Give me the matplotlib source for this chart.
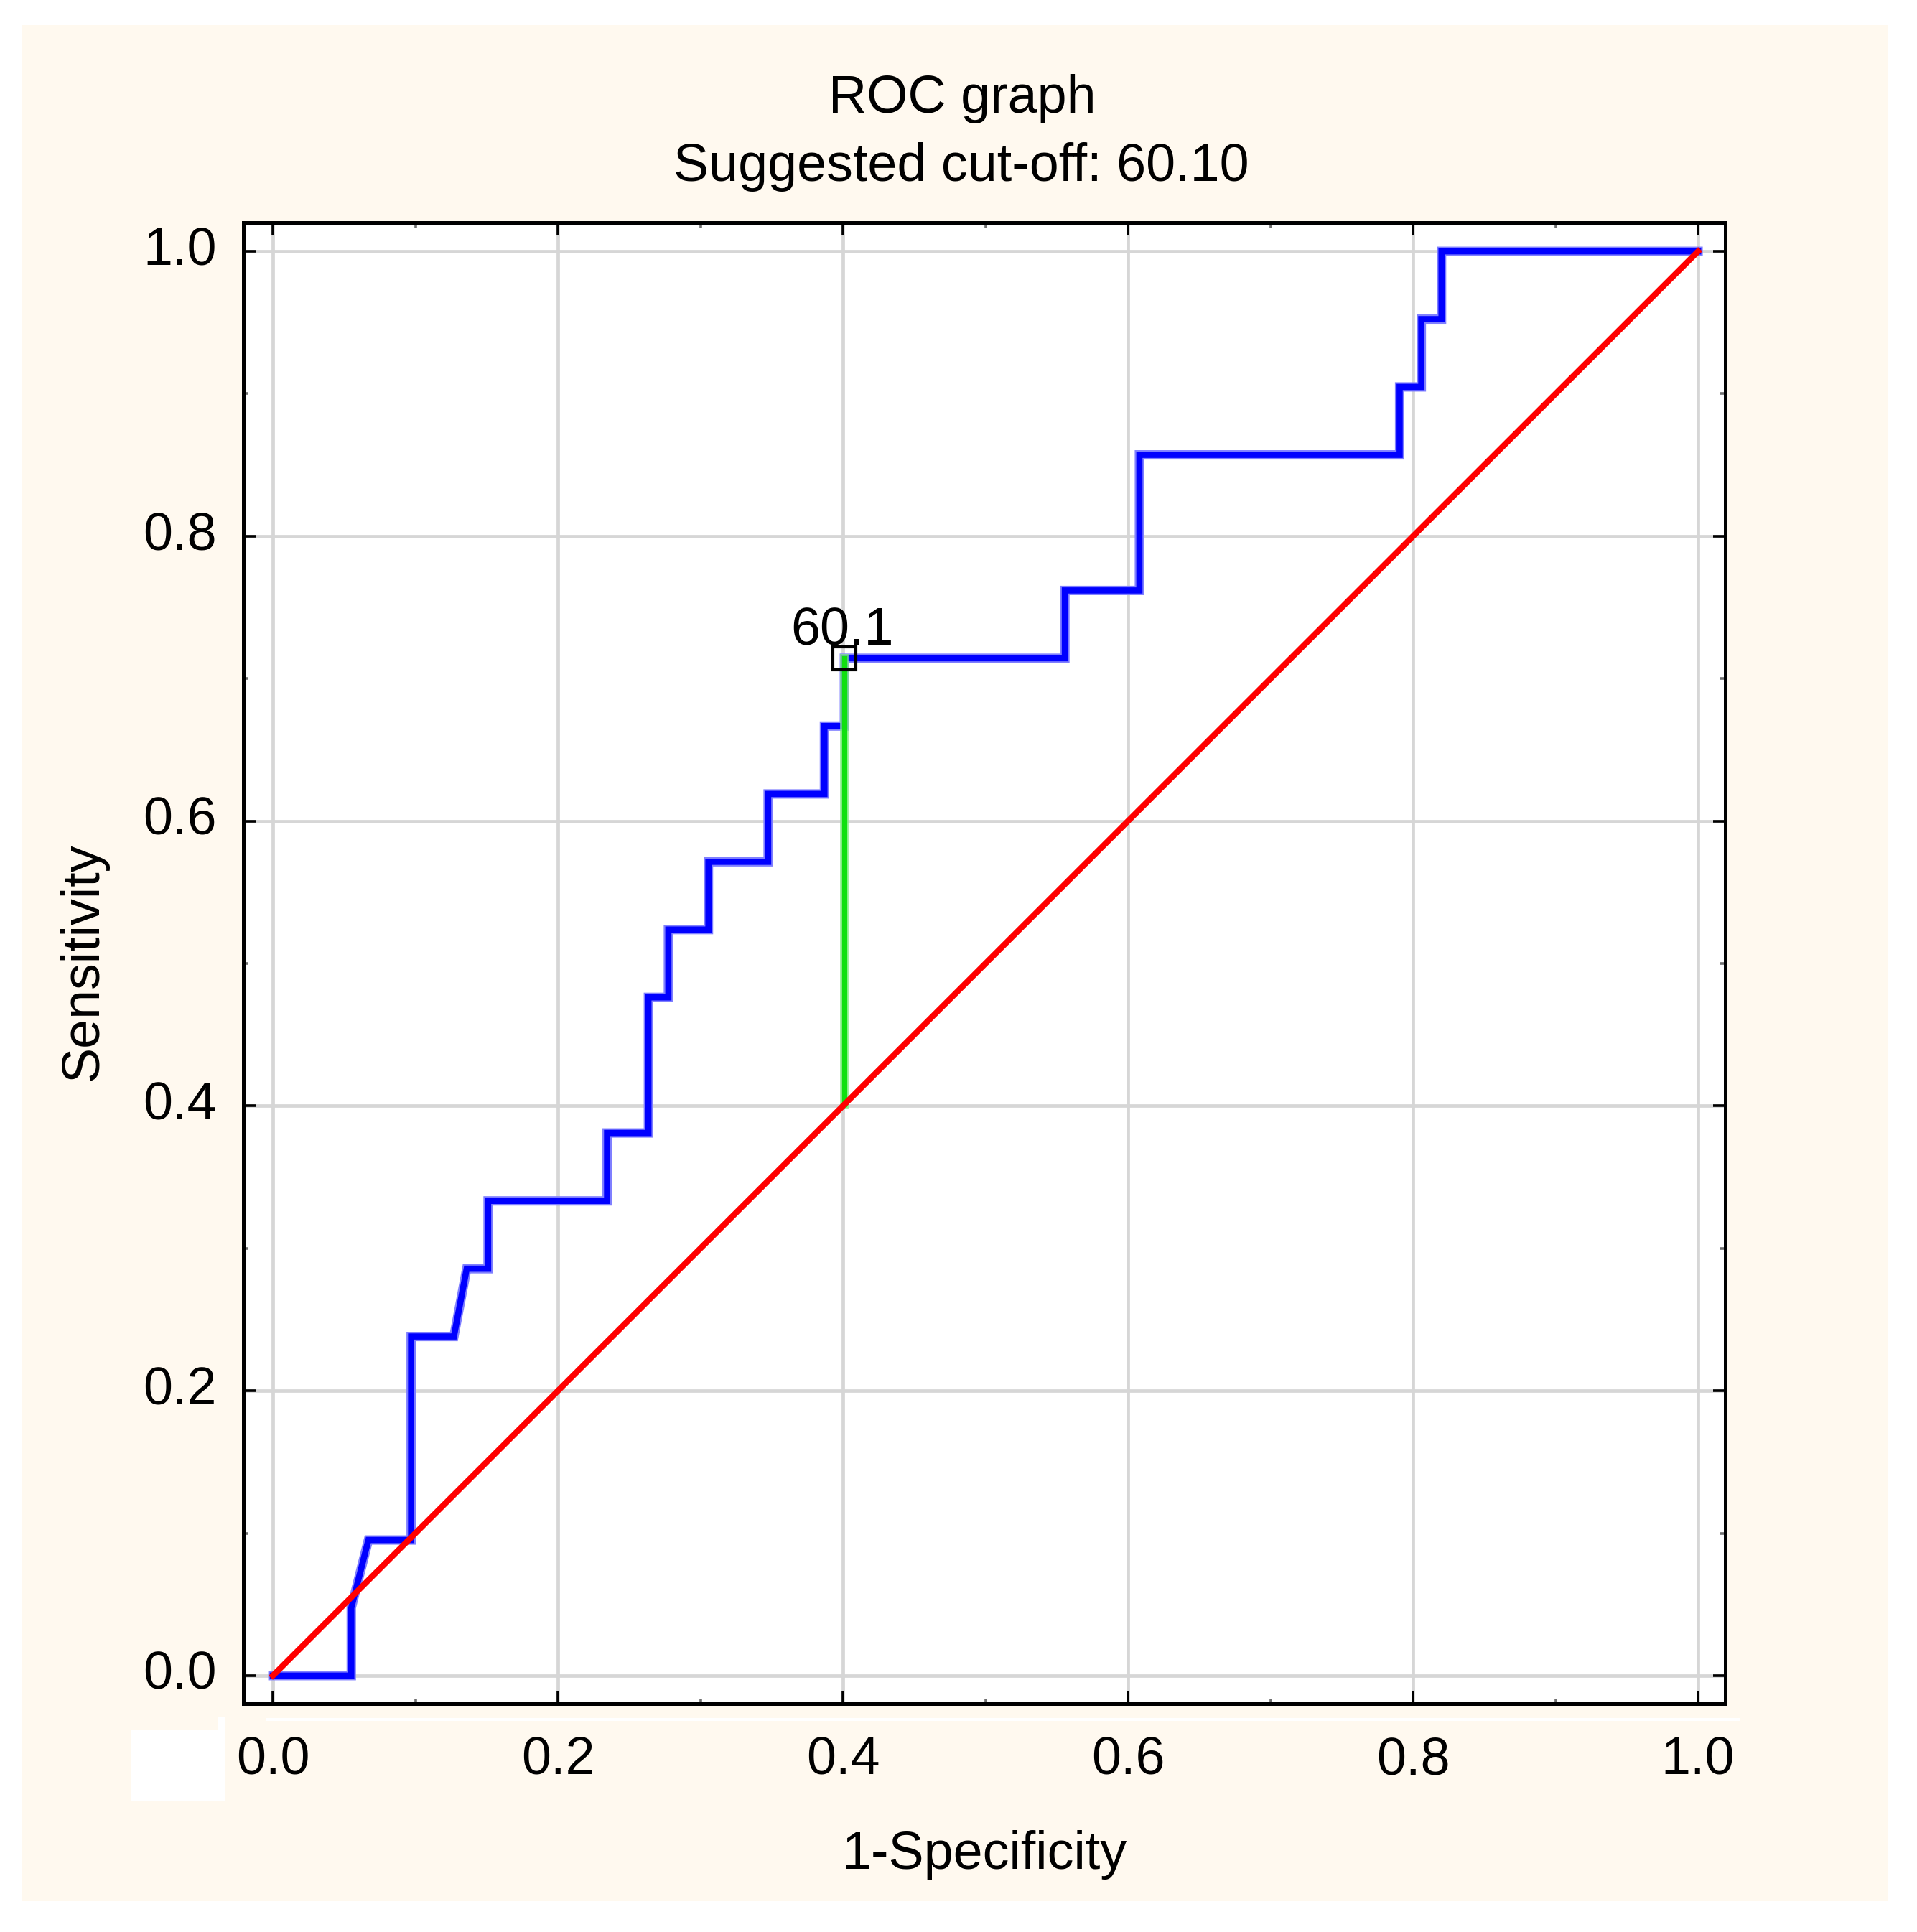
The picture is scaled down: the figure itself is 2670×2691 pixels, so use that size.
import matplotlib
matplotlib.use("Agg")
import matplotlib.pyplot as plt
from matplotlib.patches import Rectangle
import matplotlib.transforms as mtransforms

# ---- data ----
fpr = [0.0, 0.055, 0.055, 0.067, 0.097, 0.097, 0.127, 0.136, 0.151, 0.151,
       0.2345, 0.2345, 0.2635, 0.2635, 0.2775, 0.2775, 0.3056, 0.3056,
       0.3475, 0.3475, 0.387, 0.387, 0.401, 0.401, 0.5557, 0.5557,
       0.608, 0.608, 0.7906, 0.7906, 0.8058, 0.8058, 0.82, 0.82, 1.0]
tpr = [0.0, 0.0, 0.0476, 0.0952, 0.0952, 0.2381, 0.2381, 0.2857, 0.2857, 0.3333,
       0.3333, 0.3810, 0.3810, 0.4762, 0.4762, 0.5238, 0.5238, 0.5714,
       0.5714, 0.6190, 0.6190, 0.6667, 0.6667, 0.7143, 0.7143, 0.7619,
       0.7619, 0.8571, 0.8571, 0.9048, 0.9048, 0.9524, 0.9524, 1.0, 1.0]
ref_x = [0.0, 1.0]
ref_y = [0.0, 1.0]
cut_x = 0.401
cut_y = 0.7143
cut_label = "60.1"
title1 = "ROC graph"
title2 = "Suggested cut-off: 60.10"
xlabel = "1-Specificity"
ylabel = "Sensitivity"
ticks = [0.0, 0.2, 0.4, 0.6, 0.8, 1.0]
tick_labels = ["0.0", "0.2", "0.4", "0.6", "0.8", "1.0"]
minor_ticks = [0.1, 0.3, 0.5, 0.7, 0.9]

plt.rcParams['font.family'] = ['Liberation Sans', 'DejaVu Sans']

W, H = 2670, 2691
fig = plt.figure(figsize=(W / 100, H / 100), dpi=100, facecolor='white')

cream = '#FFF9EF'
# cream panel
fig.patches.append(Rectangle((31 / W, 1 - 2648 / H), (2630 - 31) / W, (2648 - 35) / H,
                             transform=fig.transFigure, facecolor=cream, edgecolor='none', zorder=-3))
# small white artefacts
fig.patches.append(Rectangle((182 / W, 1 - 2509 / H), (314 - 182) / W, (2509 - 2409) / H,
                             transform=fig.transFigure, facecolor='white', edgecolor='none', zorder=-2))
fig.patches.append(Rectangle((304 / W, 1 - 2409 / H), 10 / W, 17 / H,
                             transform=fig.transFigure, facecolor='white', edgecolor='none', zorder=-2))
fig.patches.append(Rectangle((370 / W, 1 - 2397 / H), (2423 - 370) / W, 4 / H,
                             transform=fig.transFigure, facecolor='white', edgecolor='none', zorder=-2))

ax = fig.add_axes([339 / W, 1 - 2373 / H, (2403 - 339) / W, (2373 - 310) / H])
ax.set_zorder(1)
ax.set_facecolor('white')
ax.set_xlim(-0.0207, 1.0191)
ax.set_ylim(-0.0197, 1.0202)

ax.set_xticks(ticks)
ax.set_yticks(ticks)
ax.set_xticks(minor_ticks, minor=True)
ax.set_yticks(minor_ticks, minor=True)
ax.set_xticklabels(tick_labels)
ax.set_yticklabels(tick_labels)

ax.grid(True, which='major', color='#D6D6D6', linewidth=3.4, zorder=0)
ax.set_axisbelow(True)

for s in ax.spines.values():
    s.set_linewidth(3.6)
    s.set_color('black')

ax.tick_params(which='major', direction='in', length=12, width=2.6, color='black',
               top=True, right=True, labelsize=53)
ax.tick_params(which='minor', direction='in', length=5, width=2.6, color='#707070',
               top=True, right=True)
ax.tick_params(axis='x', which='major', pad=32)
ax.tick_params(axis='y', which='major', pad=27)

# shift y tick labels up slightly
offset = mtransforms.ScaledTranslation(0, 8 / 100, fig.dpi_scale_trans)
for lab in ax.get_yticklabels():
    lab.set_transform(lab.get_transform() + offset)

# ROC curve
ax.plot(fpr, tpr, color='#7F7FFF', linewidth=9.4, solid_joinstyle='miter', zorder=3)
ax.plot(fpr, tpr, color='#0000FF', linewidth=6.2, solid_joinstyle='miter', zorder=4)
# cut-off line
ax.plot([cut_x, cut_x], [cut_x, cut_y], color='#7FEF7F', linewidth=8.5, zorder=5, alpha=0.8)
ax.plot([cut_x, cut_x], [cut_x, cut_y], color='#10E010', linewidth=5.2, zorder=5)
# reference diagonal
ax.plot(ref_x, ref_y, color='#FF0000', linewidth=6.0, zorder=6)
# marker
ax.plot([cut_x], [cut_y], marker='s', markersize=23, markerfacecolor='none',
        markeredgecolor='black', markeredgewidth=3.0, linestyle='none', zorder=7)
ax.text(cut_x - 0.0015, cut_y + 0.0095, cut_label, ha='center', va='baseline',
        fontsize=53, color='black', zorder=8)

# titles and labels
fig.text(1340 / W, 1 - 157 / H, title1, ha='center', va='baseline', fontsize=53)
fig.text(1339 / W, 1 - 252 / H, title2, ha='center', va='baseline', fontsize=53)
fig.text(1371 / W, 1 - 2603 / H, xlabel, ha='center', va='baseline', fontsize=53)
fig.text(116 / W, 1 - 1339 / H, ylabel, ha='center', va='center', rotation=90, fontsize=53)

fig.savefig('out.png', dpi=100, facecolor='white')
